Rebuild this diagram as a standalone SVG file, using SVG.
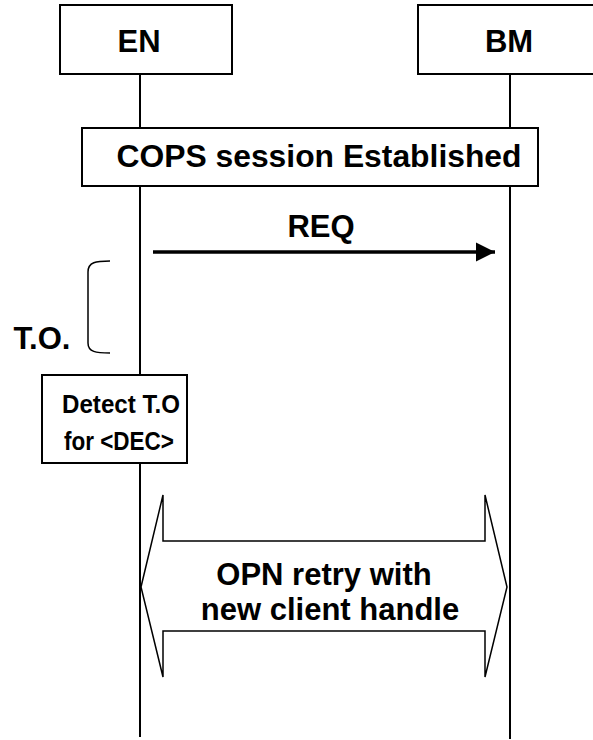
<svg xmlns="http://www.w3.org/2000/svg" width="593" height="740" viewBox="0 0 593 740">
  <style>
    .box { fill: #fff; stroke: #000; stroke-width: 2; }
    .life { stroke: #000; stroke-width: 2; fill: none; }
    .thin { fill: #fff; stroke: #000; stroke-width: 1.5; stroke-linejoin: miter; }
    .lbl { font-family: "Liberation Sans", Arial, Helvetica, sans-serif; font-weight: bold; font-size: 31px; fill: #000; text-anchor: middle; }
    .small { font-size: 25px; }
  </style>
  <defs>
    <marker id="head" viewBox="0 0 10 10" refX="10" refY="5" markerWidth="5.5" markerHeight="5.5" markerUnits="strokeWidth" orient="auto">
      <path d="M0,0 L10,5 L0,10 Z" fill="#000"/>
    </marker>
  </defs>

  <!-- lifelines and the REQ message -->
  <g id="connectors">
    <line class="life" x1="140" y1="74" x2="140" y2="737"/>
    <line class="life" x1="510" y1="74" x2="510" y2="739"/>
    <line x1="153" y1="252" x2="495" y2="252" stroke="#000" stroke-width="3.5" marker-end="url(#head)"/>
    <text class="lbl" x="321" y="237">REQ</text>
  </g>

  <g id="node-en">
    <rect class="box" x="60" y="5" width="172" height="69"/>
    <text class="lbl" x="139" y="52">EN</text>
  </g>

  <g id="node-bm">
    <rect class="box" x="418" y="5" width="190" height="69"/>
    <text class="lbl" x="509" y="52">BM</text>
  </g>

  <g id="node-cops">
    <rect class="box" x="82" y="128" width="456" height="58"/>
    <text class="lbl" x="319" y="167" textLength="405" lengthAdjust="spacingAndGlyphs">COPS session Established</text>
  </g>

  <!-- timeout bracket -->
  <g id="node-timeout">
    <path d="M110,261 C96,261 88,262 88,272 L88,343 C88,352 96,353 110,353" fill="none" stroke="#000" stroke-width="1.5"/>
    <text class="lbl" x="42" y="349">T.O.</text>
  </g>

  <g id="node-detect">
    <rect class="box" x="42" y="375" width="145" height="88"/>
    <text class="lbl small" x="121" y="413" textLength="118" lengthAdjust="spacingAndGlyphs">Detect T.O</text>
    <text class="lbl small" x="119" y="450" textLength="110" lengthAdjust="spacingAndGlyphs">for &lt;DEC&gt;</text>
  </g>

  <!-- two-way block arrow -->
  <g id="node-opn">
    <path class="thin" d="M141,587 L163,495 L163,541 L485,541 L485,495 L507,587 L485,677 L485,631 L163,631 L163,677 Z"/>
    <text class="lbl" x="324" y="585">OPN retry with</text>
    <text class="lbl" x="330" y="620">new client handle</text>
  </g>
</svg>
